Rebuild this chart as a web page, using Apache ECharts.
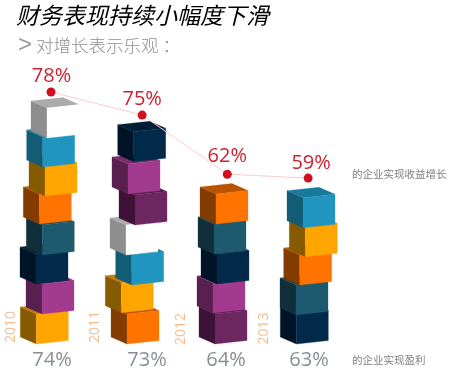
<!DOCTYPE html>
<html><head><meta charset="utf-8">
<style>html,body{margin:0;padding:0;background:#fff}#c{width:450px;height:380px}</style>
<script src="https://cdn.jsdelivr.net/npm/echarts@6/dist/echarts.min.js"></script>
</head><body><div id="c"></div>
<script>
const titleText = '财务表现持续小幅度下滑';
const subtitleMark = '>';
const subtitleText = '对增长表示乐观 ：';
const years = ['2010', '2011', '2012', '2013'];
const growth = [78, 75, 62, 59];
const profit = [74, 73, 64, 63];
const growthNote = '的企业实现收益增长';
const profitNote = '的企业实现盈利';
// Height of the growth dots, in blocks above the base, and their column
const growthDotHeight = [8.4, 7.63, 5.66, 5.53];
const growthDotColumn = [0, 1.06, 2.05, 2.99];
// Block stacks, bottom to top
const stack2010 = ['amber', 'magenta', 'navy', 'teal', 'orange', 'amber', 'blue', 'white'];
const stack2011 = ['orange', 'amber', 'blue', 'white', 'plum', 'magenta', 'navy'];
const stack2012 = ['plum', 'magenta', 'navy', 'teal', 'orange'];
const stack2013 = ['navy', 'teal', 'orange', 'amber', 'blue'];

// ---- styling and hand-placed jitter of the blocks ----
const palette = {
  amber:   {right: '#ffa500', left: '#855a00', top: '#c27a00'},
  magenta: {right: '#a23b8f', left: '#57204f', top: '#7c2d6e'},
  navy:    {right: '#01294a', left: '#001427', top: '#011d36'},
  teal:    {right: '#1e5a6f', left: '#112f3b', top: '#174555'},
  orange:  {right: '#ff7300', left: '#823c00', top: '#b85400'},
  blue:    {right: '#1f95bf', left: '#135c76', top: '#18799b'},
  plum:    {right: '#6c2660', left: '#3d1236', top: '#541d4b'},
  white:   {right: '#ffffff', left: '#8e8e8e', top: '#ababab'}
};
const stacks = [stack2010, stack2011, stack2012, stack2013];
const jitterX = [[-6.7,-1,-7,-0.7,-3.7,2,-0.3,4],[-2,-7.7,2.7,-3,6,-1,4.7],[0,-2,2,-1,1],[-4.7,-5,-1.3,4.3,2]];
const jitterY = [[0,0,0,1,0,2,3,4],[0,-1.3,1,1,1,0,-2.3],[0,-1,0,0,0],[0,1,1,2.7,3.7]];
const blockRows = [];
stacks.forEach((s, col) => s.forEach((name, level) => blockRows.push([col, level, name, jitterX[col][level], jitterY[col][level]])));

const W = 32, D = 16, H = 30, DY = 7, RY = 3.4;
function renderBlock(params, api) {
  const base = api.coord([api.value(0), api.value(1)]);
  const name = blockRows[params.dataIndex][2];
  const c = palette[name];
  const x = base[0] - 8 + api.value(3), y = base[1] + api.value(4);
  const poly = (pts, fill) => ({type: 'polygon', shape: {points: pts}, style: {fill: fill, stroke: fill, lineWidth: 0.3}});
  return {type: 'group', children: [
    poly([[x, y], [x - D, y - DY], [x - D, y - DY - H], [x, y - H]], c.left),
    poly([[x, y - H], [x - D, y - DY - H], [x - D + W, y - DY - RY - H], [x + W, y - RY - H]], c.top),
    poly([[x, y], [x + W, y - RY], [x + W, y - RY - H], [x, y - H]], c.right)
  ]};
}

const growthOffset = [[0.5, 3], [0, 3], [0, 1], [3, 3.5]];
const profitOffset = [[1, 0], [10, 0], [3, 0], [0, 0]];
const yearOffset = [[17, -40.3], [17, -42], [15, -42], [15.5, -45]];

const chart = echarts.init(document.getElementById('c'), null, {renderer: 'canvas'});
chart.setOption({
  animation: false,
  backgroundColor: '#fff',
  title: {
    text: titleText,
    subtext: '{m|' + subtitleMark + '}{t|' + subtitleText + '}',
    left: 16, top: 4, itemGap: 6,
    padding: [0, 0, 0, 0],
    textStyle: {fontFamily: 'Noto Sans CJK SC', fontSize: 23, fontWeight: 'normal', fontStyle: 'italic', color: '#000'},
    subtextStyle: {
      rich: {
        m: {fontFamily: 'Liberation Sans', fontSize: 24, color: '#9a9a9a', padding: [0, 4, 0, 2]},
        t: {fontFamily: 'Noto Sans CJK SC', fontSize: 17.5, fontWeight: 300, color: '#8f8f8f'}
      }
    }
  },
  grid: {left: 8, width: 344, top: 44, height: 330},
  xAxis: {type: 'value', min: -0.5, max: 3.5, show: false},
  yAxis: {type: 'value', min: -1, max: 10, show: false},
  graphic: [
    {type: 'text', left: 352, top: 169, style: {text: growthNote, font: '10.5px "Noto Sans CJK SC"', fill: '#7f7f7f'}},
    {type: 'text', left: 352, top: 355, style: {text: profitNote, font: '10.5px "Noto Sans CJK SC"', fill: '#7f7f7f'}}
  ],
  series: [
    {type: 'custom', renderItem: renderBlock, clip: false, z: 2,
     encode: {x: 0, y: 1}, data: blockRows.map(r => [r[0], r[1], 0, r[3], r[4]])},
    {type: 'line', z: 3, symbol: 'circle', symbolSize: 9, clip: false,
     lineStyle: {color: '#f9cdd0', width: 1},
     itemStyle: {color: '#cf1020'},
     data: growth.map((g, i) => ({
       value: [growthDotColumn[i], growthDotHeight[i]],
       label: {show: true, position: 'top', distance: 4, offset: growthOffset[i], formatter: g + '%',
               fontFamily: 'Open Sans', fontSize: 20, color: '#cf1f2b'}
     }))},
    {type: 'scatter', z: 3, symbolSize: 0, clip: false, silent: true,
     data: profit.map((p, i) => ({
       value: [i, -0.53],
       label: {show: true, position: 'inside', offset: profitOffset[i], formatter: p + '%',
               fontFamily: 'Open Sans', fontSize: 20, color: '#69707a'}
     }))},
    {type: 'scatter', z: 3, symbolSize: 0, clip: false, silent: true,
     data: years.map((y, i) => ({
       value: [i, 0],
       label: {show: true, position: 'inside', rotate: 90, offset: yearOffset[i], formatter: y,
               fontFamily: 'Open Sans', fontSize: 14, color: '#f0aa6c'}
     }))}
  ]
});
</script></body></html>
